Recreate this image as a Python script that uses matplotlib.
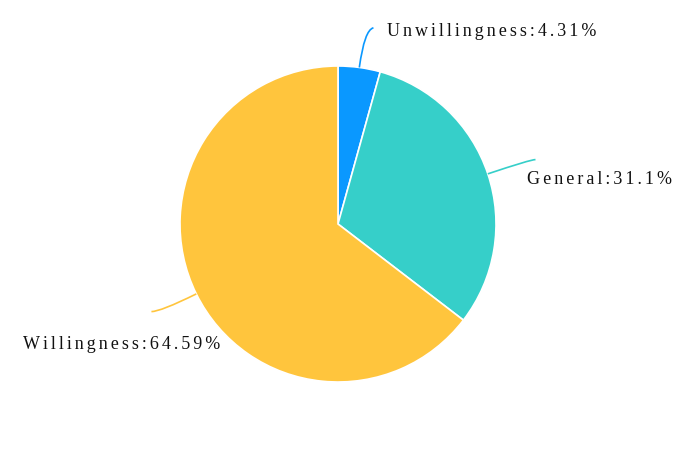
import matplotlib
matplotlib.use("Agg")
import matplotlib.pyplot as plt
import numpy as np
from matplotlib.path import Path
from matplotlib.patches import PathPatch

labels = ["Unwillingness", "General", "Willingness"]
values = [4.31, 31.1, 64.59]
colors = ["#0A98FF", "#36CFC9", "#FFC53D"]
label_text = ["Unwillingness:4.31%", "General:31.1%", "Willingness:64.59%"]

W, H = 696, 456
fig = plt.figure(figsize=(W / 100, H / 100), dpi=100)
ax = fig.add_axes([0, 0, 1, 1])

cx, cy, R = 338, H - 225, 158
wedges, _ = ax.pie(values, colors=colors, startangle=90, counterclock=False,
                   center=(cx, cy), radius=R, frame=True,
                   wedgeprops=dict(edgecolor="white", linewidth=1.2))
ax.set_xlim(0, W)
ax.set_ylim(0, H)
ax.set_aspect("equal")
ax.axis("off")

# leader line params (radial length, horizontal length) and label anchor (left x, baseline y from top)
L1 = [38, 45, 40]
L2 = [9, 5, 9]
label_pos = [(387, 36), (527, 184), (23, 349)]

for w, c, l1, l2 in zip(wedges, colors, L1, L2):
    mid = np.deg2rad((w.theta1 + w.theta2) / 2)
    ux, uy = np.cos(mid), np.sin(mid)
    p0 = (cx + R * ux, cy + R * uy)
    p1 = (cx + (R + l1) * ux, cy + (R + l1) * uy)
    sgn = 1 if ux >= 0 else -1
    p2 = (p1[0] + sgn * l2, p1[1] + (2 if uy > 0.9 else 0))
    path = Path([p0, p1, p2], [Path.MOVETO, Path.CURVE3, Path.CURVE3])
    ax.add_patch(PathPatch(path, facecolor="none", edgecolor=c, lw=1.2))

fig.canvas.draw()
renderer = fig.canvas.get_renderer()
fam = ["Liberation Serif", "DejaVu Serif"]
fs = 13
targets = [200, 143, 190]  # approximate rendered widths of labels in pixels
seps = ["", "\u200a", "\u2009", "\u200a\u200a", "\u2009\u200a"]
for txt, (lx, ly), tw in zip(label_text, label_pos, targets):
    best = None
    for sep in seps:
        s = sep.join(txt)
        t = ax.text(lx, H - ly, s, family=fam, fontsize=fs, color="#111111")
        wd = t.get_window_extent(renderer=renderer).width
        t.remove()
        if best is None or abs(wd - tw) < best[0]:
            best = (abs(wd - tw), s)
    ax.text(lx, H - ly, best[1], family=fam, fontsize=fs, color="#111111")

fig.savefig("out.png", dpi=100, facecolor="white")
